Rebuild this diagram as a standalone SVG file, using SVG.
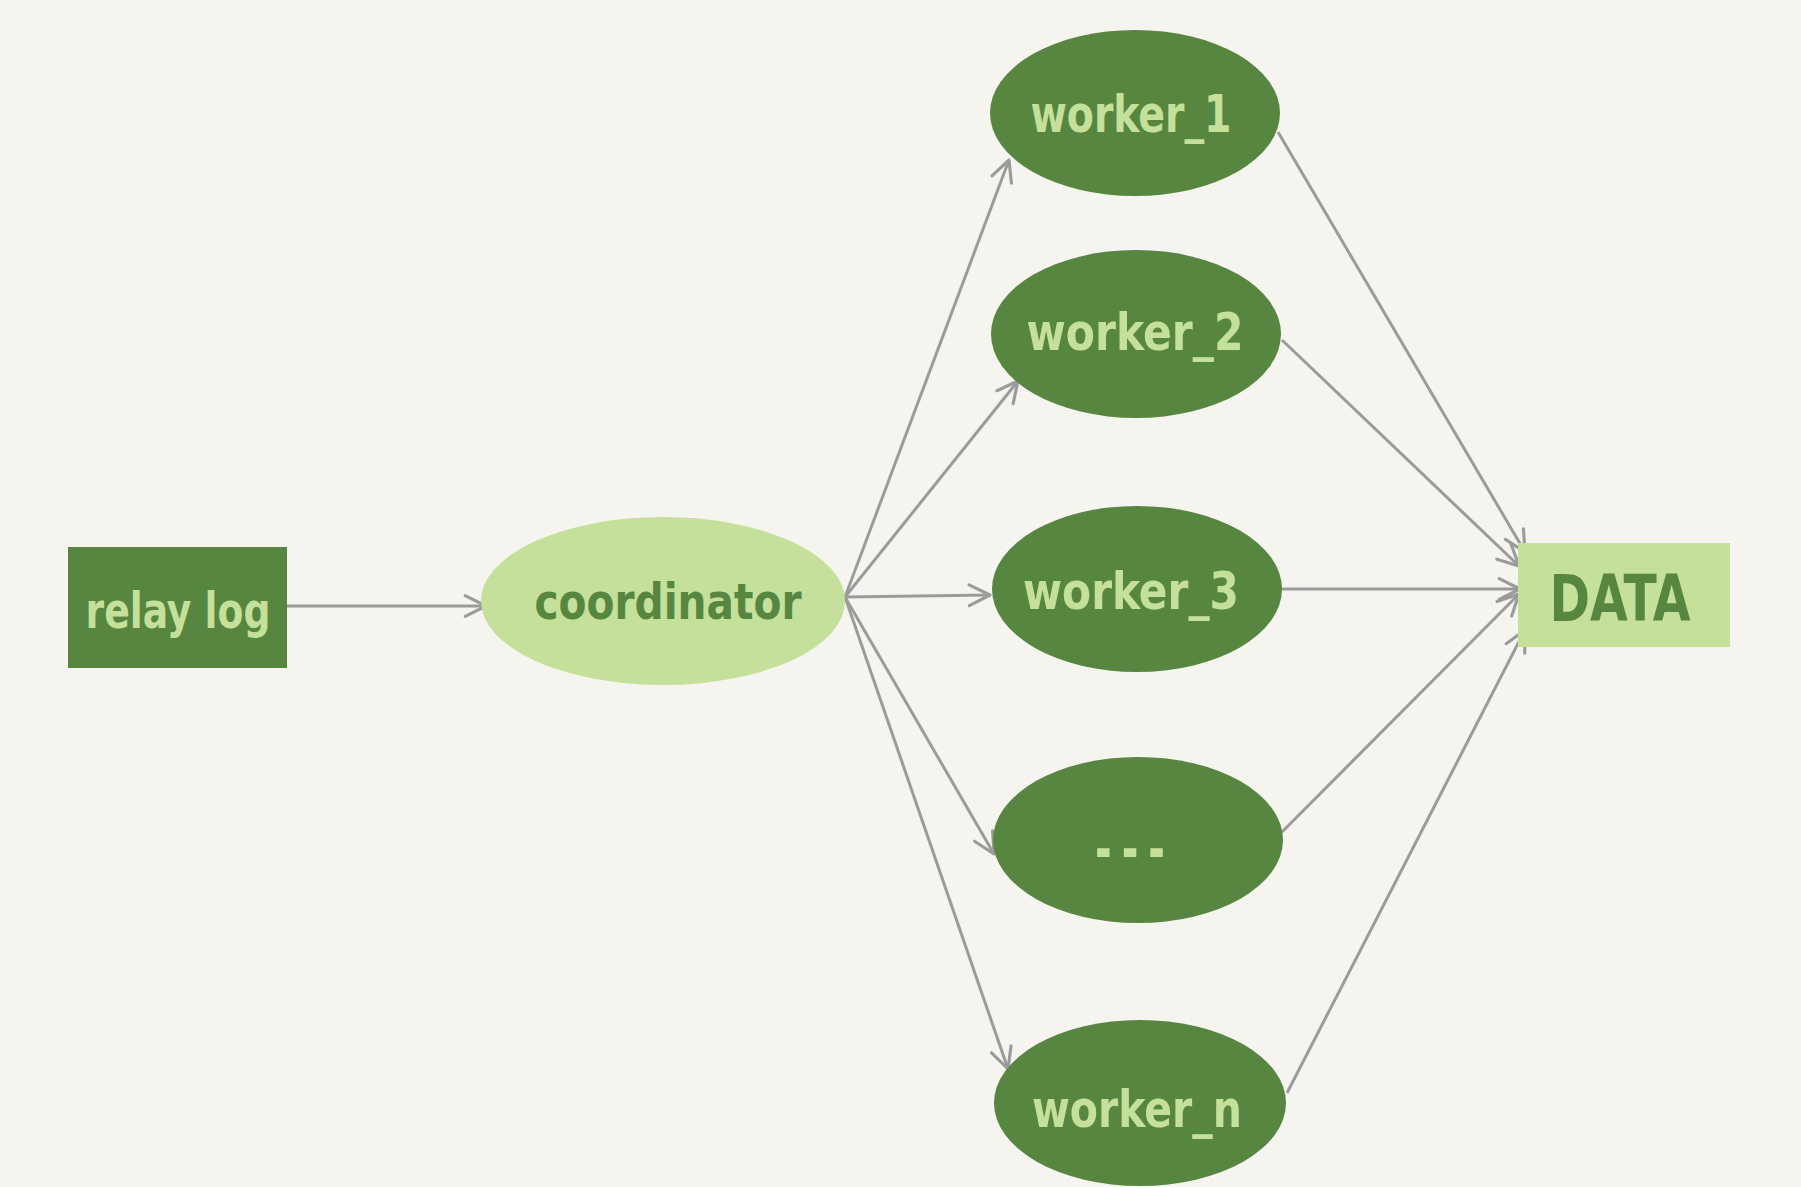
<svg xmlns="http://www.w3.org/2000/svg" width="1801" height="1187" viewBox="0 0 1801 1187">
<style>
.bg{fill:#f5f4ef}
.dark{fill:#578640}
.light{fill:#c4e09a}
.tl{font-family:"DejaVu Sans Condensed","DejaVu Sans",sans-serif;font-weight:bold;fill:#c4e09a}
.td{font-family:"DejaVu Sans Condensed","DejaVu Sans",sans-serif;font-weight:bold;fill:#578640}
.edge{stroke:#9b9b9b;stroke-width:3;fill:none;marker-end:url(#arr)}
</style>
<defs>
<marker id="arr" viewBox="0 0 20 20" refX="18" refY="10" markerWidth="26" markerHeight="26" markerUnits="userSpaceOnUse" orient="auto">
<path d="M2,2 L18,10 L2,18" fill="none" stroke="#9b9b9b" stroke-width="2.4" stroke-linecap="round" stroke-linejoin="round"/>
</marker>
</defs>
<rect class="bg" x="0" y="0" width="1801" height="1187"/>
<g id="connectors">
<line class="edge" x1="287" y1="606" x2="486" y2="606"/>
<line class="edge" x1="845" y1="597" x2="1009" y2="160"/>
<line class="edge" x1="845" y1="597" x2="1018" y2="381"/>
<line class="edge" x1="845" y1="597" x2="990" y2="595"/>
<line class="edge" x1="845" y1="597" x2="994" y2="854"/>
<line class="edge" x1="845" y1="597" x2="1008" y2="1069"/>
<line class="edge" x1="1278" y1="132" x2="1525" y2="552"/>
<line class="edge" x1="1282" y1="340" x2="1519" y2="566"/>
<line class="edge" x1="1281" y1="589" x2="1520" y2="589"/>
<line class="edge" x1="1282" y1="832" x2="1519" y2="594"/>
<line class="edge" x1="1287" y1="1093" x2="1525" y2="630"/>
</g>
<g id="relay_log">
<rect class="dark" x="68" y="547" width="219" height="121"/>
<text class="tl" x="178" y="628" font-size="50" text-anchor="middle" textLength="185" lengthAdjust="spacingAndGlyphs">relay log</text>
</g>
<g id="coordinator">
<ellipse class="light" cx="663" cy="601" rx="182" ry="84"/>
<text class="td" x="668" y="619" font-size="50" text-anchor="middle" textLength="267" lengthAdjust="spacingAndGlyphs">coordinator</text>
</g>
<g id="worker_1">
<ellipse class="dark" cx="1135" cy="113" rx="145" ry="83"/>
<text class="tl" x="1131" y="132" font-size="52" text-anchor="middle" textLength="201" lengthAdjust="spacingAndGlyphs">worker_1</text>
</g>
<g id="worker_2">
<ellipse class="dark" cx="1136" cy="334" rx="145" ry="84"/>
<text class="tl" x="1135" y="350" font-size="52" text-anchor="middle" textLength="217" lengthAdjust="spacingAndGlyphs">worker_2</text>
</g>
<g id="worker_3">
<ellipse class="dark" cx="1137" cy="589" rx="145" ry="83"/>
<text class="tl" x="1131" y="609" font-size="52" text-anchor="middle" textLength="216" lengthAdjust="spacingAndGlyphs">worker_3</text>
</g>
<g id="worker_dots">
<ellipse class="dark" cx="1138" cy="840" rx="145" ry="83"/>
<text class="tl" x="1130" y="857" font-size="46" text-anchor="middle" textLength="80" lengthAdjust="spacingAndGlyphs">...</text>
</g>
<g id="worker_n">
<ellipse class="dark" cx="1140" cy="1103" rx="146" ry="83"/>
<text class="tl" x="1137" y="1127" font-size="52" text-anchor="middle" textLength="210" lengthAdjust="spacingAndGlyphs">worker_n</text>
</g>
<g id="data">
<rect class="light" x="1518" y="543" width="212" height="104"/>
<text class="td" x="1620" y="621" font-size="64" text-anchor="middle" textLength="141" lengthAdjust="spacingAndGlyphs">DATA</text>
</g>
</svg>
